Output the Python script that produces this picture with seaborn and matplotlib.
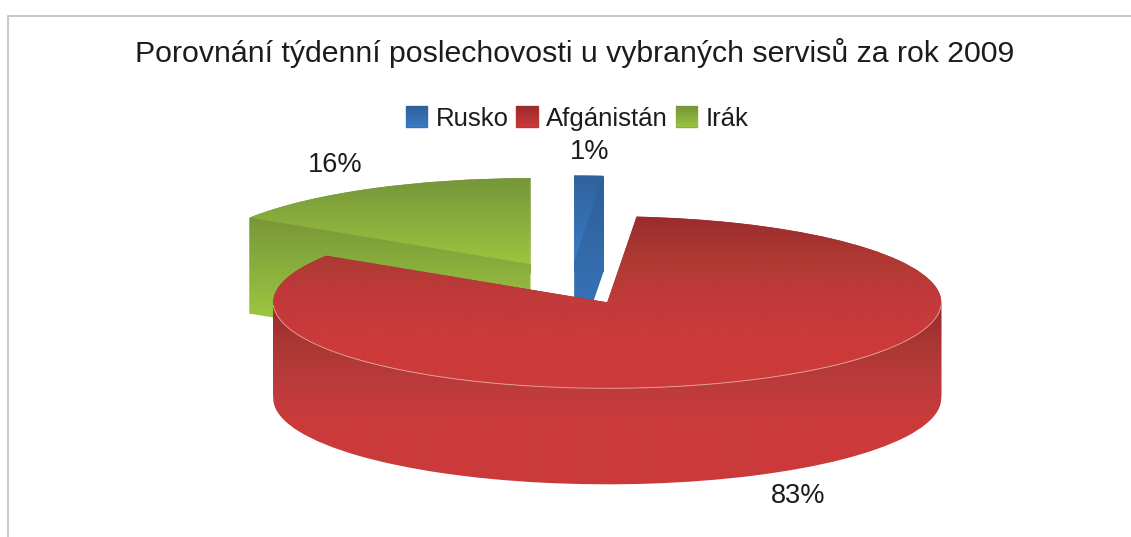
import matplotlib
matplotlib.use("Agg")
import matplotlib.pyplot as plt
from matplotlib.lines import Line2D
from matplotlib.patches import Patch
from matplotlib.path import Path
from matplotlib.transforms import IdentityTransform
import numpy as np
import seaborn as sns

title = "Porovnání týdenní poslechovosti u vybraných servisů za rok 2009"
countries = ["Rusko", "Afgánistán", "Irák"]
shares = [1.4, 82.7, 15.9]  # labels round them

# gradients of each slice, dark to light, top to bottom
top_stops = [["#2f629c", "#3a7ac4"],
             ["#9b2b2e", "#ae3a32", "#c23a3b", "#cc3a3a"],
             ["#769639", "#9bc53f"]]
side_stops = [["#2d5f98", "#3a78c0"],
              ["#9d2c30", "#ab3833", "#bc3b3c", "#cb3a3a"],
              ["#789739", "#9ac440"]]
swatch_stops = [["#2f629c", "#3a7ac4"], ["#9b2b2e", "#cc3a3a"], ["#769639", "#9bc53f"]]
flat_colors = ["#3570b0", "#b93636", "#8bae3d"]

# y pixel range of the gradients
top_range = [(174, 260), (217, 340), (177, 263)]
side_range = [(174, 345), (310, 420), (217, 312)]
# back to front: green, blue, red
layer = [3, 5, 1]

# pie geometry in pixels of the 1131x537 picture
width, height = 1131, 537
cx, cy = 570.5, 283  # pie centre before the slices are pulled out
rx, ry = 334, 86
depth = 96

sns.set_theme(style="white")
plt.rcParams["font.family"] = ["Liberation Sans", "DejaVu Sans"]

fig = plt.figure(figsize=(width / 100, height / 100), dpi=100)
ax = fig.add_axes([0, 0, 1, 1])


def to_data(px, py):
    return (px - cx) / rx, (cy - py) / ry


def set_limits():
    ax.set_xlim(-cx / rx, (width - cx) / rx)
    ax.set_ylim((cy - height) / ry, cy / ry)


def paint(stops, y_range, z):
    # whole-picture vertical gradient, the caller clips it to a shape
    cmap = sns.blend_palette(stops, as_cmap=True)
    rows = np.arange(height)[:, None]
    grad = np.clip((rows - y_range[0]) / (y_range[1] - y_range[0]), 0, 1)
    x0, y1 = to_data(0, 0)
    x1, y0 = to_data(width, height)
    return ax.imshow(grad, cmap=cmap, vmin=0, vmax=1, aspect="auto",
                     extent=(x0, x1, y0, y1), zorder=z)


def extrusion(wedge):
    # the wedge outline swept down by depth, as one path of same-way quads
    to_px = wedge.get_patch_transform() + ax.transData
    outline = wedge.get_path().to_polygons(to_px)[0]
    verts, codes = [], []
    for a, b in zip(outline[:-1], outline[1:]):
        quad = [a, b, b - [0, depth], a - [0, depth]]
        xs, ys = np.array(quad).T
        if np.dot(xs, np.roll(ys, 1)) - np.dot(ys, np.roll(xs, 1)) < 0:
            quad = quad[::-1]
        verts += quad + [quad[0]]
        codes += [Path.MOVETO, Path.LINETO, Path.LINETO, Path.LINETO, Path.CLOSEPOLY]
    return Path(verts, codes)


wedges, _, pct_texts = ax.pie(shares, colors=flat_colors, explode=[0.25] * 3,
                              startangle=90, counterclock=False,
                              autopct="%1.0f%%")
ax.set_aspect("auto")
set_limits()
ax.axis("off")

for i, wedge in enumerate(wedges):
    wedge.set_facecolor("none")
    wedge.set_edgecolor("none")
    side_im = paint(side_stops[i], side_range[i], layer[i])
    side_im.set_clip_path(extrusion(wedge), IdentityTransform())
    top_im = paint(top_stops[i], top_range[i], layer[i] + 1)
    top_im.set_clip_path(wedge)
set_limits()

# pale line along the front rim of the red slice
red = wedges[1]
rim = np.radians(np.linspace(182, 358, 200))
ax.plot(red.center[0] + np.cos(rim), red.center[1] + np.sin(rim),
        color="#e39a90", lw=0.7, zorder=7)

# percent labels
label_pos = [(589.5, 152), (798, 496), (335, 165)]
for text, pos in zip(pct_texts, label_pos):
    text.set_position(to_data(*pos))
    text.set(ha="center", va="center", fontsize=19.5, color="#1c1c1c", zorder=9)

leg = ax.legend(handles=[Patch(color=c, label=n) for c, n in zip(flat_colors, countries)],
                ncols=3, loc="center", bbox_to_anchor=(577 / width, 1 - 118.5 / height),
                frameon=False, fontsize=18.5, handlelength=0.84, handleheight=0.84,
                handletextpad=0.32, columnspacing=0.3, labelcolor="#1c1c1c")

fig.text(575 / width, 1 - 62 / height, title, ha="center", va="baseline",
         fontsize=21.8, color="#1c1c1c")

# grey frame of the original picture, top and left only
fig.add_artist(Line2D([1, 8 / width, 8 / width], [1 - 16 / height, 1 - 16 / height, 0],
                      color="#c9c9c9", lw=1.5))

# swatches get the same gradient as the slices
fig.canvas.draw()
for patch, stops in zip(leg.get_patches(), swatch_stops):
    box = patch.get_window_extent()
    im = paint(stops, (height - box.y1, height - box.y0), 10)
    im.set_clip_path(patch)
set_limits()

fig.savefig("out.png", dpi=100)
